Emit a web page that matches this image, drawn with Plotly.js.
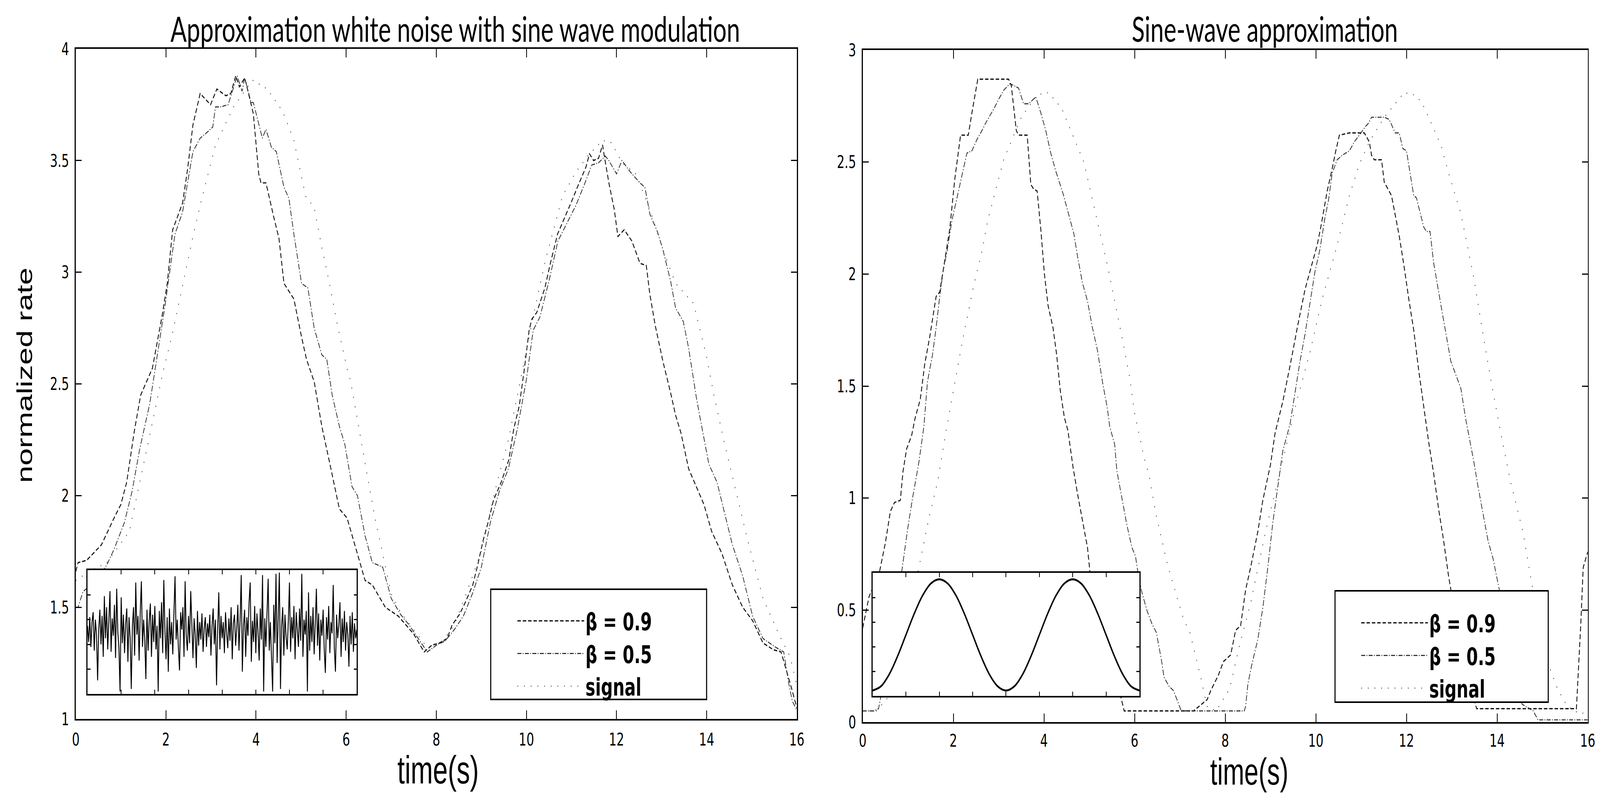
<!DOCTYPE html>
<html>
<head>
<meta charset="utf-8">
<script src="https://cdn.plot.ly/plotly-3.0.1.min.js"></script>
<style>
html,body{margin:0;padding:0;background:#fff;overflow:hidden;}
#wrap{position:absolute;left:0;top:0;width:5996px;height:2032px;transform-origin:0 0;}
#chart{width:5996px;height:2032px;}
svg text{font-variant-ligatures:none;}
</style>
</head>
<body>
<div id="wrap"><div id="chart"></div></div>
<script>
// ---------------- DATA ----------------
const xTicks = [0, 2, 4, 6, 8, 10, 12, 14, 16];
const seriesNames = ["\u03b2 = 0.9", "\u03b2 = 0.5", "signal"];

// Left panel: white noise with sine wave modulation  [time (s), normalized rate]
const leftBeta09 = [[0,1.66],[0.05,1.70],[0.24,1.71],[0.57,1.78],[0.85,1.90],[1.0,1.96],[1.13,2.06],[1.3,2.29],[1.44,2.45],[1.7,2.57],[1.92,2.81],[2.03,2.95],[2.15,3.19],[2.26,3.25],[2.37,3.31],[2.48,3.46],[2.6,3.66],[2.76,3.80],[2.99,3.75],[3.13,3.82],[3.33,3.79],[3.44,3.80],[3.55,3.88],[3.63,3.83],[3.75,3.87],[3.94,3.71],[4.06,3.44],[4.11,3.40],[4.22,3.40],[4.39,3.25],[4.51,3.15],[4.62,2.95],[4.84,2.88],[5.01,2.71],[5.12,2.61],[5.29,2.51],[5.46,2.31],[5.63,2.15],[5.85,1.94],[6.02,1.90],[6.19,1.78],[6.42,1.62],[6.58,1.60],[6.87,1.50],[7.16,1.46],[7.33,1.42],[7.5,1.38],[7.73,1.30],[7.9,1.33],[8.07,1.34],[8.24,1.36],[8.35,1.42],[8.52,1.47],[8.64,1.52],[8.81,1.60],[8.92,1.69],[9.04,1.80],[9.15,1.88],[9.27,1.98],[9.44,2.06],[9.61,2.16],[9.72,2.30],[9.84,2.40],[9.95,2.56],[10.06,2.74],[10.12,2.79],[10.23,2.82],[10.41,2.93],[10.52,3.03],[10.69,3.17],[10.86,3.25],[11.03,3.33],[11.15,3.39],[11.32,3.47],[11.4,3.53],[11.49,3.50],[11.6,3.51],[11.69,3.57],[11.72,3.53],[11.83,3.40],[11.95,3.28],[12.03,3.16],[12.17,3.19],[12.34,3.14],[12.52,3.04],[12.66,3.03],[12.74,2.90],[12.86,2.76],[13.03,2.60],[13.2,2.46],[13.31,2.36],[13.43,2.28],[13.6,2.12],[13.77,2.04],[13.94,1.96],[14.11,1.84],[14.34,1.74],[14.57,1.60],[14.8,1.50],[15.02,1.44],[15.25,1.34],[15.48,1.31],[15.65,1.30],[15.88,1.14],[16,1.05]];
const leftBeta05 = [[0,1.50],[0.05,1.50],[0.16,1.57],[0.45,1.62],[0.69,1.69],[0.85,1.76],[1.08,1.88],[1.25,2.02],[1.42,2.21],[1.64,2.41],[1.81,2.63],[1.98,2.85],[2.2,3.17],[2.37,3.27],[2.48,3.40],[2.6,3.54],[2.76,3.60],[2.88,3.62],[3.04,3.65],[3.1,3.74],[3.21,3.74],[3.38,3.75],[3.49,3.82],[3.58,3.88],[3.69,3.81],[3.75,3.87],[3.89,3.76],[3.94,3.76],[4.14,3.60],[4.22,3.64],[4.34,3.56],[4.45,3.54],[4.62,3.38],[4.73,3.33],[4.84,3.17],[5.01,2.95],[5.15,2.93],[5.29,2.75],[5.46,2.63],[5.57,2.61],[5.69,2.45],[5.85,2.31],[5.97,2.23],[6.13,2.04],[6.25,2.00],[6.42,1.82],[6.58,1.70],[6.81,1.68],[7.0,1.54],[7.2,1.47],[7.4,1.42],[7.6,1.36],[7.8,1.30],[8.0,1.33],[8.2,1.35],[8.4,1.40],[8.6,1.46],[8.8,1.56],[9.0,1.68],[9.2,1.88],[9.4,2.02],[9.6,2.12],[9.8,2.30],[10.0,2.52],[10.15,2.74],[10.3,2.80],[10.5,2.96],[10.7,3.14],[10.9,3.22],[11.1,3.30],[11.3,3.40],[11.45,3.48],[11.6,3.49],[11.75,3.52],[11.83,3.50],[12.0,3.44],[12.12,3.50],[12.3,3.45],[12.52,3.40],[12.63,3.38],[12.74,3.26],[12.91,3.18],[13.03,3.10],[13.2,2.96],[13.31,2.84],[13.48,2.78],[13.6,2.66],[13.77,2.44],[13.88,2.32],[14.05,2.14],[14.23,2.06],[14.4,1.92],[14.57,1.78],[14.8,1.64],[15.02,1.46],[15.25,1.36],[15.54,1.32],[15.71,1.30],[15.82,1.16],[15.9,1.08],[16,1.04]];
const leftSignal = [[0,1.62],[0.3,1.66],[0.69,1.70],[1.19,1.84],[1.64,2.27],[1.92,2.54],[2.15,2.73],[2.6,3.16],[2.76,3.30],[3.1,3.57],[3.5,3.74],[3.92,3.86],[4.25,3.82],[4.59,3.72],[4.67,3.68],[4.84,3.59],[5.1,3.34],[5.29,3.29],[5.46,3.11],[5.63,2.95],[5.8,2.77],[6.02,2.57],[6.1,2.51],[6.53,2.02],[6.64,1.90],[7.0,1.56],[7.2,1.48],[7.5,1.40],[7.8,1.32],[8.1,1.34],[8.4,1.42],[8.7,1.58],[9.0,1.75],[9.3,2.02],[9.6,2.25],[9.9,2.55],[10.2,2.85],[10.43,3.06],[10.8,3.34],[11.1,3.45],[11.4,3.53],[11.69,3.59],[11.89,3.58],[12.12,3.49],[12.43,3.44],[12.74,3.28],[13.03,3.10],[13.31,2.95],[13.71,2.86],[14.0,2.62],[14.17,2.44],[14.4,2.23],[14.91,1.80],[15.25,1.54],[15.6,1.38],[15.85,1.28],[16,1.15]];

// Right panel: sine-wave approximation  [time (s), normalized rate]
const rightBeta09 = [[0,0.42],[0.14,0.56],[0.37,0.67],[0.5,0.80],[0.61,0.94],[0.7,0.98],[0.83,0.99],[0.89,1.12],[0.97,1.22],[1.08,1.28],[1.16,1.36],[1.27,1.44],[1.37,1.60],[1.48,1.72],[1.62,1.90],[1.7,1.92],[1.81,2.06],[1.92,2.20],[2.03,2.42],[2.16,2.62],[2.33,2.62],[2.41,2.72],[2.54,2.87],[2.9,2.87],[3.22,2.87],[3.28,2.84],[3.39,2.64],[3.44,2.62],[3.63,2.62],[3.71,2.40],[3.77,2.38],[3.85,2.37],[3.93,2.20],[4.01,2.00],[4.09,1.86],[4.2,1.76],[4.28,1.64],[4.36,1.48],[4.45,1.36],[4.53,1.30],[4.64,1.14],[4.74,1.02],[4.85,0.90],[4.96,0.78],[5.02,0.66],[5.3,0.38],[5.6,0.13],[5.7,0.11],[5.77,0.05],[6.5,0.05],[7.3,0.05],[7.6,0.10],[7.68,0.14],[7.85,0.21],[7.96,0.27],[8.12,0.30],[8.23,0.41],[8.34,0.43],[8.45,0.59],[8.56,0.69],[8.72,0.85],[8.83,0.99],[9.0,1.15],[9.1,1.29],[9.27,1.43],[9.43,1.59],[9.6,1.77],[9.76,1.93],[9.92,2.05],[10.03,2.13],[10.11,2.21],[10.25,2.37],[10.36,2.47],[10.44,2.55],[10.52,2.62],[10.74,2.63],[10.96,2.63],[11.07,2.63],[11.18,2.59],[11.23,2.53],[11.29,2.51],[11.45,2.51],[11.51,2.41],[11.62,2.37],[11.67,2.35],[11.84,2.17],[11.95,2.03],[12.05,1.89],[12.16,1.75],[12.27,1.57],[12.38,1.41],[12.49,1.25],[12.6,1.11],[12.71,0.95],[12.82,0.81],[12.93,0.65],[13.1,0.45],[13.3,0.22],[13.55,0.06],[13.8,0.06],[14.2,0.06],[15.0,0.06],[15.75,0.06],[15.85,0.45],[15.9,0.69],[16,0.76]];
const rightBeta05 = [[0,0.05],[0.25,0.05],[0.35,0.06],[0.5,0.22],[0.86,0.67],[0.99,0.86],[1.1,1.00],[1.24,1.16],[1.35,1.32],[1.43,1.52],[1.54,1.64],[1.62,1.76],[1.7,1.90],[1.78,2.02],[1.86,2.10],[1.97,2.24],[2.08,2.34],[2.19,2.44],[2.3,2.54],[2.41,2.55],[2.52,2.60],[2.63,2.64],[2.73,2.68],[2.9,2.74],[3.0,2.78],[3.11,2.82],[3.25,2.85],[3.44,2.83],[3.55,2.76],[3.66,2.76],[3.82,2.79],[3.93,2.72],[4.04,2.64],[4.15,2.54],[4.26,2.46],[4.42,2.36],[4.58,2.24],[4.66,2.18],[4.74,2.08],[4.85,1.96],[4.96,1.88],[5.07,1.76],[5.18,1.66],[5.29,1.52],[5.4,1.40],[5.45,1.32],[5.56,1.24],[5.61,1.12],[5.72,1.00],[5.83,0.88],[5.94,0.78],[6.02,0.74],[6.08,0.66],[6.16,0.58],[6.27,0.50],[6.38,0.44],[6.48,0.40],[6.59,0.28],[6.65,0.20],[6.76,0.16],[6.86,0.14],[6.97,0.08],[7.03,0.05],[8.0,0.05],[8.42,0.05],[8.45,0.07],[8.5,0.17],[8.58,0.25],[8.72,0.37],[8.83,0.51],[8.94,0.69],[9.05,0.89],[9.16,1.05],[9.27,1.21],[9.43,1.33],[9.54,1.47],[9.65,1.61],[9.76,1.73],[9.87,1.87],[9.98,2.01],[10.09,2.11],[10.2,2.25],[10.28,2.33],[10.36,2.45],[10.47,2.51],[10.58,2.53],[10.74,2.55],[10.85,2.59],[10.96,2.62],[11.1,2.66],[11.15,2.67],[11.23,2.70],[11.51,2.70],[11.62,2.69],[11.75,2.63],[11.84,2.63],[11.92,2.56],[12.0,2.55],[12.16,2.35],[12.22,2.34],[12.38,2.21],[12.44,2.19],[12.52,2.19],[12.6,2.05],[12.77,1.85],[12.98,1.61],[13.09,1.55],[13.2,1.49],[13.31,1.35],[13.48,1.17],[13.58,1.05],[13.69,0.93],[13.8,0.81],[13.91,0.73],[14.05,0.59],[14.3,0.30],[14.55,0.08],[14.8,0.05],[14.9,0.01],[16,0.01]];
const rightSignal = [[0,0.05],[0.3,0.05],[0.6,0.12],[0.9,0.35],[1.1,0.55],[1.32,0.77],[1.46,0.91],[1.65,1.07],[1.84,1.30],[2.2,1.70],[2.45,1.95],[2.63,2.10],[2.76,2.24],[3.11,2.51],[3.5,2.70],[3.85,2.80],[4.1,2.81],[4.39,2.74],[4.88,2.50],[5.4,2.04],[5.59,1.85],[5.72,1.72],[5.89,1.54],[6.0,1.38],[6.21,1.18],[6.32,1.10],[6.48,0.92],[6.73,0.70],[7.08,0.46],[7.22,0.40],[7.46,0.20],[7.6,0.07],[7.8,0.05],[8.1,0.15],[8.3,0.33],[8.56,0.53],[8.89,0.85],[9.32,1.21],[9.6,1.45],[9.87,1.65],[10.14,1.89],[10.42,2.09],[10.74,2.35],[10.96,2.49],[11.18,2.59],[11.51,2.70],[11.95,2.81],[12.16,2.80],[12.33,2.77],[12.6,2.65],[12.77,2.57],[12.93,2.45],[13.2,2.27],[13.48,1.99],[13.69,1.73],[13.86,1.53],[14.08,1.29],[14.3,1.07],[14.57,0.85],[14.79,0.59],[14.95,0.41],[15.11,0.27],[15.33,0.15],[15.55,0.07],[15.8,0.04],[16,0.04]];

// Inset (left): white-noise input, 241 samples over 0..16 s (relative amplitude)
const insetNoise = [
0.55,0.42,0.62,0.38,0.58,0.66,0.35,0.60,0.48,0.11,0.52,0.68,0.40,0.63,0.30,0.79,0.45,0.70,0.36,0.58,
0.83,0.34,0.61,0.47,0.72,0.29,0.85,0.50,0.37,0.02,0.78,0.41,0.64,0.33,0.57,0.69,0.26,0.62,0.45,0.04,
0.55,0.70,0.31,0.90,0.48,0.63,0.27,0.66,0.91,0.38,0.60,0.44,0.12,0.68,0.35,0.59,0.73,0.30,0.64,0.42,
0.71,0.36,0.55,0.02,0.67,0.45,0.74,0.33,0.92,0.51,0.28,0.62,0.18,0.69,0.40,0.58,0.32,0.65,0.95,0.44,
0.60,0.37,0.19,0.66,0.52,0.70,0.30,0.91,0.47,0.35,0.63,0.41,0.83,0.56,0.29,0.61,0.48,0.21,0.67,0.39,
0.58,0.44,0.65,0.34,0.53,0.62,0.38,0.57,0.46,0.64,0.31,0.55,0.69,0.40,0.60,0.07,0.52,0.82,0.36,0.63,
0.45,0.58,0.33,0.66,0.49,0.37,0.61,0.43,0.70,0.28,0.57,0.64,0.39,0.53,0.72,0.35,0.60,0.96,0.18,0.55,
0.68,0.30,0.62,0.47,0.74,0.90,0.26,0.59,0.42,0.71,0.33,0.65,0.50,0.27,0.69,0.44,0.96,0.02,0.61,0.38,
0.66,0.93,0.35,0.58,0.29,0.02,0.72,0.41,0.97,0.25,0.63,0.98,0.04,0.55,0.70,0.31,0.64,0.46,0.36,0.59,
0.90,0.34,0.62,0.45,0.71,0.28,0.66,0.51,0.38,0.69,0.43,0.97,0.30,0.60,0.48,0.67,0.02,0.82,0.35,0.63,
0.42,0.70,0.32,0.57,0.85,0.39,0.65,0.27,0.60,0.47,0.68,0.36,0.17,0.62,0.44,0.71,0.33,0.58,0.49,0.88,
0.37,0.18,0.64,0.45,0.56,0.74,0.30,0.61,0.42,0.67,0.35,0.58,0.48,0.22,0.63,0.40,0.66,0.34,0.57,0.45,0.52];
const insetNoiseSpan = 16;

// Inset (right): sine-wave input, sampled every 0.5 s (relative amplitude)
const insetSineT = [0,0.5,1,1.5,2,2.5,3,3.5,4,4.5,5,5.5,6,6.5,7,7.5,8,8.5,9,9.5,10,10.5,11,11.5,12,12.5,13,13.5,14,14.5,15,15.5,16];
const insetSine  = [0.044,0.078,0.176,0.323,0.496,0.669,0.816,0.914,0.948,0.914,0.816,0.669,0.496,0.323,0.176,0.078,0.044,0.078,0.176,0.323,0.496,0.669,0.816,0.914,0.948,0.914,0.816,0.669,0.496,0.323,0.176,0.078,0.044];

// ---------------- LAYOUT HELPERS ----------------
const W = 5996, H = 2032;
const px = v => v / W;
const py = v => 1 - v / H;
const col = (arr, i) => arr.map(p => p[i]);

// fit the 5996x2032 design into whatever window the page is given
(function fit() {
  const sx = (window.innerWidth || W) / W, sy = (window.innerHeight || H) / H;
  document.getElementById('wrap').style.transform = 'scale(' + sx + ',' + sy + ')';
})();

const lineStyles = [
  {color: '#111', width: 3.2, dash: '13px,7px'},
  {color: '#2a2a2a', width: 2.6, dash: '15px,5px,3px,5px'},
  {color: '#444', width: 2.6, dash: '3px,22px'}
];

function mainTraces(series, xa, ya, legendId) {
  return series.map((s, i) => ({
    type: 'scatter', mode: 'lines',
    x: col(s, 0), y: col(s, 1),
    xaxis: xa, yaxis: ya,
    name: seriesNames[i], legend: legendId,
    line: lineStyles[i], hoverinfo: 'skip'
  }));
}

const noiseT = insetNoise.map((_, i) => i * insetNoiseSpan / (insetNoise.length - 1));

const traces = [
  ...mainTraces([leftBeta09, leftBeta05, leftSignal], 'x', 'y', 'legend'),
  ...mainTraces([rightBeta09, rightBeta05, rightSignal], 'x2', 'y2', 'legend2'),
  // inset backgrounds (opaque panel covering main curves)
  {type:'scatter', mode:'lines', x:[0,16,16,0,0], y:[0,0,1,1,0], fill:'toself', fillcolor:'#fff',
   line:{width:0}, xaxis:'x3', yaxis:'y3', showlegend:false, hoverinfo:'skip'},
  {type:'scatter', mode:'lines', x:noiseT, y:insetNoise, xaxis:'x3', yaxis:'y3',
   line:{color:'#000', width:3.4}, showlegend:false, hoverinfo:'skip'},
  {type:'scatter', mode:'lines', x:[0,16,16,0,0], y:[0,0,1,1,0], fill:'toself', fillcolor:'#fff',
   line:{width:0}, xaxis:'x4', yaxis:'y4', showlegend:false, hoverinfo:'skip'},
  {type:'scatter', mode:'lines', x:insetSineT, y:insetSine, xaxis:'x4', yaxis:'y4',
   line:{color:'#000', width:5, shape:'spline'}, showlegend:false, hoverinfo:'skip'}
];

const tickFont = {family: 'DejaVu Sans', size: 45, color: '#000'};
function mainX(domain, anchor, standoff) {
  return {domain, anchor, range: [0, 16], tickvals: xTicks, ticktext: xTicks.map(String),
    ticks: 'inside', ticklen: 22, tickwidth: 3, tickcolor: '#000',
    showline: true, linewidth: 4, linecolor: '#000', mirror: 'ticks',
    showgrid: false, zeroline: false, tickfont: tickFont, ticklabelstandoff: standoff, fixedrange: true};
}
function mainY(domain, anchor, range) {
  return {domain, anchor, range, dtick: 0.5, tick0: 0,
    ticks: 'inside', ticklen: 22, tickwidth: 3, tickcolor: '#000',
    showline: true, linewidth: 4, linecolor: '#000', mirror: 'ticks',
    showgrid: false, zeroline: false, tickfont: tickFont, ticklabelstandoff: 12, fixedrange: true};
}
function insetAx(domain, anchor, range, dtick) {
  return {domain, anchor, range, dtick, tick0: 0,
    ticks: 'inside', ticklen: 11, tickwidth: 3, tickcolor: '#000',
    showline: true, linewidth: 4, linecolor: '#000', mirror: 'ticks',
    showgrid: false, zeroline: false, showticklabels: false, fixedrange: true};
}

const legendFont = {family: 'DejaVu Sans', size: 62, color: '#000', weight: 'bold'};
const legendCommon = {xanchor: 'left', yanchor: 'top', bgcolor: 'rgba(0,0,0,0)', borderwidth: 0,
  font: legendFont, itemwidth: 250, traceorder: 'normal', tracegroupgap: 0};

const ann = (text, x, y, size, family, extra) => Object.assign({
  text, x: px(x), y: py(y), xref: 'paper', yref: 'paper', showarrow: false,
  xanchor: 'center', yanchor: 'middle', font: {family, size, color: '#000'}
}, extra || {});

const layout = {
  width: W, height: H,
  margin: {l: 0, r: 0, t: 0, b: 0},
  paper_bgcolor: '#fff', plot_bgcolor: 'rgba(0,0,0,0)',
  showlegend: true,
  xaxis:  mainX([px(284), px(2986)], 'y', 10),
  yaxis:  mainY([py(1840), py(125)], 'x', [1, 4]),
  xaxis2: mainX([px(3233), px(5950)], 'y2', 5),
  yaxis2: mainY([py(1848), py(128)], 'x2', [0, 3]),
  xaxis3: insetAx([px(328), px(1337)], 'y3', [0, 16], 2),
  yaxis3: insetAx([py(1776), py(1459)], 'x3', [0, 1], 0.2),
  xaxis4: insetAx([px(3270), px(4270)], 'y4', [0, 16], 2),
  yaxis4: insetAx([py(1781), py(1466)], 'x4', [0, 1], 0.2),
  legend:  Object.assign({x: px(1934), y: py(1542)}, legendCommon),
  legend2: Object.assign({x: px(5096), y: py(1547)}, legendCommon),
  shapes: [
    {type: 'rect', xref: 'paper', yref: 'paper', layer: 'above',
     x0: px(1839), x1: px(2648), y0: py(1790), y1: py(1508),
     fillcolor: '#fff', line: {color: '#000', width: 4}},
    {type: 'rect', xref: 'paper', yref: 'paper', layer: 'above',
     x0: px(5003), x1: px(5802), y0: py(1797), y1: py(1512),
     fillcolor: '#fff', line: {color: '#000', width: 4}}
  ],
  annotations: [
    ann('Approximation white noise with sine wave modulation', 1706, 72, 90, 'Lato'),
    ann('Sine-wave approximation', 4740, 72, 90, 'Lato'),
    ann('time(s)', 1642, 1970, 100, 'Liberation Sans'),
    ann('time(s)', 4681, 1974, 96, 'Liberation Sans'),
    ann('normalized rate', 93, 961, 80, 'Liberation Sans', {textangle: -90})
  ]
};

Plotly.newPlot('chart', traces, layout, {staticPlot: true, displayModeBar: false});
</script>
</body>
</html>
